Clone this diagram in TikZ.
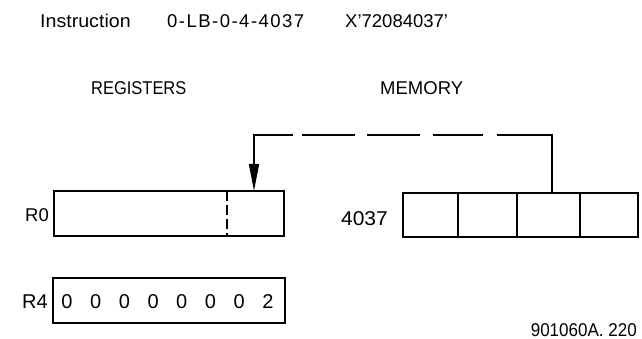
\documentclass[tikz,border=0pt]{standalone}
\usepackage{fontspec}
\setmainfont{Liberation Sans}
\usetikzlibrary{arrows.meta,calc}
\begin{document}
\begin{tikzpicture}[x=1pt,y=-1pt,
  lbl/.style={inner sep=0pt,font=\fontsize{18.5}{20}\selectfont},
  big/.style={inner sep=0pt,font=\fontsize{20}{22}\selectfont},
  box/.style={draw,line width=1.5pt,inner sep=0pt,minimum height=45pt},
  cell/.style={draw,line width=1.5pt,inner sep=0pt,minimum height=44pt},
  dig/.style={inner sep=0pt,anchor=base,font=\fontsize{20}{22}\selectfont}]
\useasboundingbox (0,0) rectangle (642,339);
% header
\node[lbl,anchor=base west] (ins) at (40,28) {\addfontfeature{FakeStretch=1.06}Instruction};
\node[lbl,anchor=base west] (code) at (167,28) {\addfontfeature{LetterSpace=8}0-LB-0-4-4037};
\node[lbl,anchor=base west] (hex) at (345,28) {X'72084037'};
\node[lbl,anchor=base west] (reg) at (91,95) {\addfontfeature{FakeStretch=0.89}REGISTERS};
\node[lbl,anchor=base west] (mem) at (380,95) {MEMORY};
% registers
\node[box,minimum width=230pt] (r0) at (169,213.5) {};
\node[box,minimum width=232pt] (r4) at (169,300.5) {};
\node[lbl,anchor=base west] (r0l) at (25,221) {R0};
\node[big,anchor=base west] (r4l) at (22,308) {R4};
\draw[line width=1.5pt,dash pattern=on 10pt off 4pt] (227,191) coordinate (d1) -- (227,236) coordinate (d2);
\foreach \i in {0,...,6}{
  \node[dig] (dg\i) at ({67+28.7*\i},308) {0};
}
\node[dig] (dg7) at (268,308) {2};
% memory
\node[cell,minimum width=55pt] (m1) at (430.5,215) {};
\node[cell,minimum width=59pt] (m2) at (487.5,215) {};
\node[cell,minimum width=63pt] (m3) at (548.5,215) {};
\node[cell,minimum width=58pt] (m4) at (609,215) {};
\node[big,anchor=base east] (addr) at (388,225) {\addfontfeature{FakeStretch=1.05}4037};
% connector
\coordinate (src) at (552,193);
\coordinate (c1) at (552,135);
\coordinate (c2) at (254,135);
\coordinate (dst) at (254,191);
\draw[line width=1.5pt,dash pattern=on 113pt off 14pt on 50pt off 13pt on 53pt off 12pt on 53pt off 9pt on 200pt,
  -{Triangle[length=27pt,width=10pt]}] (src) -- (c1) -- (c2) -- (dst);
% figure id
\node[lbl,anchor=base east] (fid) at (637,336) {\addfontfeature{FakeStretch=0.92}901060A. 220};
\end{tikzpicture}
\end{document}
